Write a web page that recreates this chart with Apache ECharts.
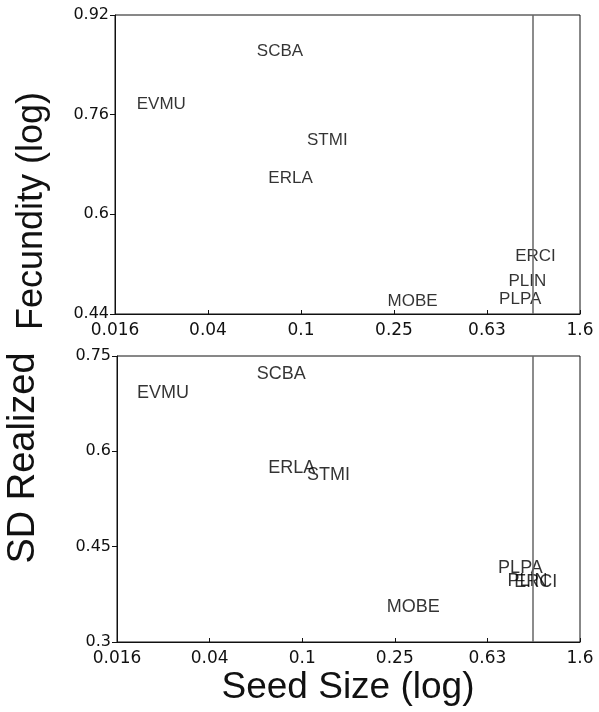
<!DOCTYPE html>
<html>
<head>
<meta charset="utf-8">
<script src="https://cdn.jsdelivr.net/npm/echarts@6/dist/echarts.min.js"></script>
<style>html,body{margin:0;padding:0;background:#fff;}#c{width:599px;height:712px;}</style>
</head>
<body>
<div id="c"></div>
<script>
// ---- data ----
const species = ['SCBA', 'EVMU', 'ERLA', 'STMI', 'ERCI', 'PLIN', 'PLPA', 'MOBE'];
const seedSize = [0.082, 0.0253, 0.091, 0.131, 1.03, 0.95, 0.885, 0.305];
const sdFecundityTop = [0.862, 0.777, 0.658, 0.719, 0.533, 0.493, 0.463, 0.461];
const sdFecundityBottom = [0.722, 0.691, 0.574, 0.562, 0.395, 0.396, 0.416, 0.355];
const xTickLabels = ['0.016', '0.04', '0.1', '0.25', '0.63', '1.6'];
const yTicksTop = [0.44, 0.6, 0.76, 0.92];
const yTicksBottom = [0.3, 0.45, 0.6, 0.75];
const refSeedSize = 1.0;

// log10 axis with ticks every 0.4 decades starting at 0.016
const X0 = Math.log10(0.016), STEP = 0.4;
const tx = s => (Math.log10(s) - X0) / STEP;

const labelFont = 'Liberation Sans, Arial, sans-serif';
const tickFont = 'DejaVu Sans, sans-serif';

function xAxisCfg(gi) {
  return {
    gridIndex: gi, type: 'value', min: 0, max: 5, interval: 1,
    axisLine: {show: true, lineStyle: {color: '#111', width: 1}},
    axisTick: {show: true, inside: true, length: 4, lineStyle: {color: '#111'}},
    axisLabel: {margin: 8, fontSize: 17, fontFamily: tickFont, color: '#111',
      formatter: v => xTickLabels[Math.round(v)]},
    splitLine: {show: false}
  };
}
function yAxisCfg(gi, ticks) {
  return {
    gridIndex: gi, type: 'value', min: ticks[0], max: ticks[ticks.length - 1],
    axisLine: {show: true, lineStyle: {color: '#111', width: 1}},
    axisTick: {show: true, inside: false, length: 5, customValues: ticks, lineStyle: {color: '#111'}},
    axisLabel: {margin: 6, fontSize: 16, fontFamily: tickFont, color: '#111', customValues: ticks,
      formatter: v => String(+v.toFixed(2))},
    splitLine: {show: false}
  };
}
function labelSeries(gi, ys, fs) {
  return {
    type: 'scatter', xAxisIndex: gi, yAxisIndex: gi, symbolSize: 0, silent: true,
    data: species.map((n, i) => ({name: n, value: [tx(seedSize[i]), ys[i]]})),
    label: {show: true, position: 'inside', formatter: p => p.name, color: '#000',
      fontSize: fs, fontFamily: labelFont},
    markLine: {silent: true, symbol: 'none', label: {show: false},
      lineStyle: {color: '#666', width: 1.5, type: 'solid'},
      data: [{xAxis: tx(refSeedSize)}]}
  };
}

const chart = echarts.init(document.getElementById('c'), null, {renderer: 'canvas'});
chart.setOption({
  animation: false,
  backgroundColor: '#fff',
  grid: [
    {left: 115, top: 15, width: 465, height: 299, show: true, borderColor: '#111', borderWidth: 1, backgroundColor: 'transparent'},
    {left: 117, top: 356, width: 463, height: 286, show: true, borderColor: '#111', borderWidth: 1, backgroundColor: 'transparent'}
  ],
  xAxis: [xAxisCfg(0), xAxisCfg(1)],
  yAxis: [yAxisCfg(0, yTicksTop), yAxisCfg(1, yTicksBottom)],
  series: [labelSeries(0, sdFecundityTop, 17), labelSeries(1, sdFecundityBottom, 18)],
  graphic: [
    {type: 'text', x: 32, y: 211, rotation: Math.PI / 2,
      style: {text: 'Fecundity (log)', font: '36px Liberation Sans, Arial, sans-serif', fill: '#111', textAlign: 'center', textVerticalAlign: 'middle'}},
    {type: 'text', x: 24, y: 458, rotation: Math.PI / 2,
      style: {text: 'SD Realized', font: '38px Liberation Sans, Arial, sans-serif', fill: '#111', textAlign: 'center', textVerticalAlign: 'middle'}},
    {type: 'text', x: 348, y: 688,
      style: {text: 'Seed Size (log)', font: '37px Liberation Sans, Arial, sans-serif', fill: '#111', textAlign: 'center', textVerticalAlign: 'middle'}}
  ]
});
</script>
</body>
</html>
